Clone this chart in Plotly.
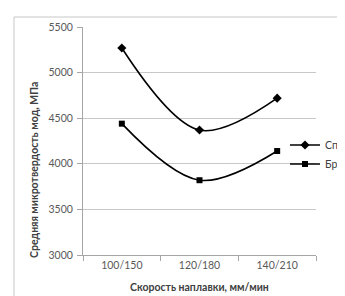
import plotly.graph_objects as go

categories = ["100/150", "120/180", "140/210"]
splav = [5270, 4370, 4720]
bronza = [4440, 3820, 4140]
series_names = ["Сплав", "Бронза"]
y_ticks = [3000, 3500, 4000, 4500, 5000, 5500]

FONT = "Lato"
# The original chart is wider than the visible 345 px window; the legend text is cut at the edge.
W, H = 400, 296
L, T, B = 75, 19, 49
PLOT_RIGHT = 308
R = W - PLOT_RIGHT
pw, ph = PLOT_RIGHT - L, H - T - B

def px_to_paper_x(px):
    return (px - L) / pw

def px_to_paper_y(py):
    return (H - B - py) / ph

fig = go.Figure()
fig.add_trace(go.Scatter(
    x=categories, y=splav, name=series_names[0], mode="lines+markers",
    line=dict(color="black", width=1.6, shape="spline", smoothing=1),
    marker=dict(symbol="diamond", size=7, color="black"),
))
fig.add_trace(go.Scatter(
    x=categories, y=bronza, name=series_names[1], mode="lines+markers",
    line=dict(color="black", width=1.6, shape="spline", smoothing=1),
    marker=dict(symbol="square", size=6, color="black"),
))

fig.update_layout(
    width=W, height=H,
    margin=dict(l=L, r=R, t=T, b=B, autoexpand=False),
    paper_bgcolor="white", plot_bgcolor="white",
    font=dict(family=FONT, size=10.5, color="#595959"),
    showlegend=True,
    legend=dict(
        x=px_to_paper_x(277), xanchor="left",
        y=px_to_paper_y(146.5), yanchor="middle",
        bgcolor="rgba(0,0,0,0)", borderwidth=0,
        font=dict(family=FONT, size=10.5, color="#404040"),
        itemwidth=30, tracegroupgap=0,
    ),
    xaxis=dict(
        type="category", range=[-0.5, 2.5],
        showline=True, linecolor="#a6a6a6", linewidth=1,
        ticks="outside", tickson="boundaries", ticklen=5, tickcolor="#a6a6a6",
        showgrid=False, tickfont=dict(family=FONT, size=10.5, color="#595959"),
    ),
    yaxis=dict(
        range=[3000, 5500], tickvals=y_ticks,
        showline=True, linecolor="#a6a6a6", linewidth=1,
        ticks="outside", ticklen=5, tickcolor="#a6a6a6",
        showgrid=True, gridcolor="#c8c8c8", gridwidth=1,
        zeroline=False,
        tickfont=dict(family=FONT, size=10.5, color="#595959"),
        ticklabelstandoff=2,
    ),
    annotations=[
        dict(text="<b>Скорость наплавки, мм/мин</b>", xref="paper", yref="paper",
             x=0.5, y=px_to_paper_y(279), xanchor="center", yanchor="middle",
             showarrow=False, font=dict(family=FONT, size=10.5, color="#404040")),
        dict(text="<b>Средняя микротвердость мод, МПа</b>", xref="paper", yref="paper",
             x=px_to_paper_x(26), y=px_to_paper_y(162), xanchor="center", yanchor="middle",
             textangle=-90, showarrow=False,
             font=dict(family=FONT, size=10.5, color="#404040")),
    ],
    shapes=[
        dict(type="rect", xref="paper", yref="paper",
             x0=px_to_paper_x(6), x1=px_to_paper_x(W + 20),
             y0=px_to_paper_y(H + 20), y1=px_to_paper_y(9),
             line=dict(color="#c8c8c8", width=1), fillcolor="rgba(0,0,0,0)",
             layer="below"),
    ],
)

fig.write_html(
    "out.html",
    post_script="document.documentElement.style.overflow='hidden';document.body.style.overflow='hidden';",
)
